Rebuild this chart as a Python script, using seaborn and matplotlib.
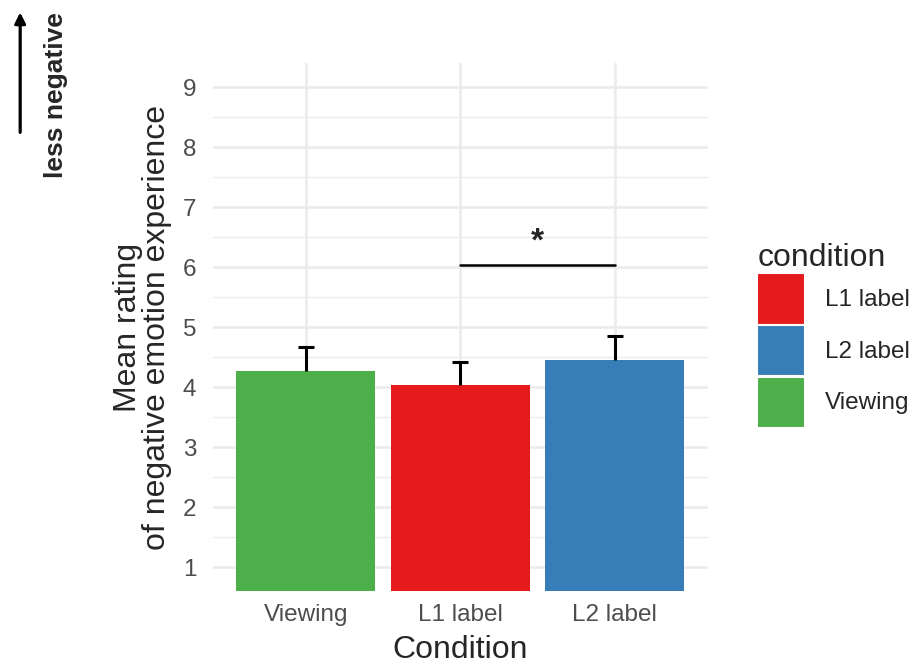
import numpy as np
import pandas as pd
import seaborn as sns
import matplotlib.pyplot as plt
from matplotlib.patches import Patch

# values
conditions = ['Viewing', 'L1 label', 'L2 label']
means = [4.26, 4.03, 4.45]
upper = [4.67, 4.42, 4.85]
legend_order = ['L1 label', 'L2 label', 'Viewing']
colors = {'L1 label': '#E41A1C', 'L2 label': '#377EB8', 'Viewing': '#4DAF4A'}
sig_pair = ['L1 label', 'L2 label']
sig_y = 6.03

df = pd.DataFrame({'condition': conditions, 'mean': means, 'upper': upper})

sns.set_theme(style='white')
plt.rcParams['font.family'] = ['Liberation Sans', 'DejaVu Sans']

fig = plt.figure(figsize=(9.16, 6.66), dpi=100)
ax = fig.add_axes([0.2325, 0.1126, 0.540, 0.7928])

ymin = 0.6
sns.barplot(data=df, x='condition', y='mean', hue='condition', order=conditions,
            palette=colors, width=0.9, legend=False, ax=ax,
            saturation=1, edgecolor='none')
# bars in ggplot start at the lower panel edge
for p in ax.patches:
    h = p.get_height()
    p.set_y(ymin)
    p.set_height(h - ymin)

xpos = np.arange(len(conditions))
err = df['upper'] - df['mean']
_, caps, _ = ax.errorbar(xpos, df['mean'], yerr=[np.zeros(len(err)), err],
                         fmt='none', ecolor='black', elinewidth=2.2,
                         capsize=5.5, capthick=2.2, zorder=1.5)
caps[0].set_visible(False)  # upper-only error bars

# significance bracket
i1, i2 = conditions.index(sig_pair[0]), conditions.index(sig_pair[1])
ax.plot([i1, i2], [sig_y, sig_y], color='black', lw=1.8, zorder=5)
ax.text((i1 + i2) / 2, sig_y + 0.12, '*', ha='center', va='bottom', fontsize=24,
        fontweight='bold')

ax.set_xlim(-0.6, 2.6)
ax.set_ylim(0.6, 9.4)
ax.set_yticks(range(1, 10))
ax.set_yticks(np.arange(1.5, 9.5, 1), minor=True)
ax.grid(True, which='major', color='#EBEBEB', lw=1.8)
ax.grid(True, which='minor', axis='y', color='#EBEBEB', lw=1.0)
ax.set_axisbelow(True)
for s in ax.spines.values():
    s.set_visible(False)
ax.tick_params(axis='both', which='both', length=0, labelsize=17.5,
               labelcolor='#4D4D4D')
ax.tick_params(axis='x', pad=9)
ax.tick_params(axis='y', pad=12)

ax.set_xlabel('Condition', fontsize=23, labelpad=7)
ax.set_ylabel('Mean rating\nof negative emotion experience', fontsize=23,
              labelpad=8, linespacing=0.95)

handles = [Patch(facecolor=colors[c], edgecolor='white', lw=1.5)
           for c in legend_order]
fig.legend(handles, legend_order, title='condition', loc='upper left',
           bbox_to_anchor=(0.803, 0.668), frameon=False, fontsize=17.5,
           title_fontsize=23, handlelength=1.97, handleheight=2.86,
           labelspacing=0.02, handletextpad=0.8, alignment='left',
           borderpad=0.4)

# "less negative" arrow at top left
fig.text(0.061, 0.982, 'less negative', rotation=90, ha='center', va='top',
         fontsize=19, fontweight='bold')
fig.add_artist(plt.annotate('', xy=(0.022, 0.985), xytext=(0.022, 0.797),
                            xycoords='figure fraction',
                            arrowprops=dict(arrowstyle='-|>', color='black',
                                            lw=2, mutation_scale=16)))

fig.savefig('out.png', dpi=100)
